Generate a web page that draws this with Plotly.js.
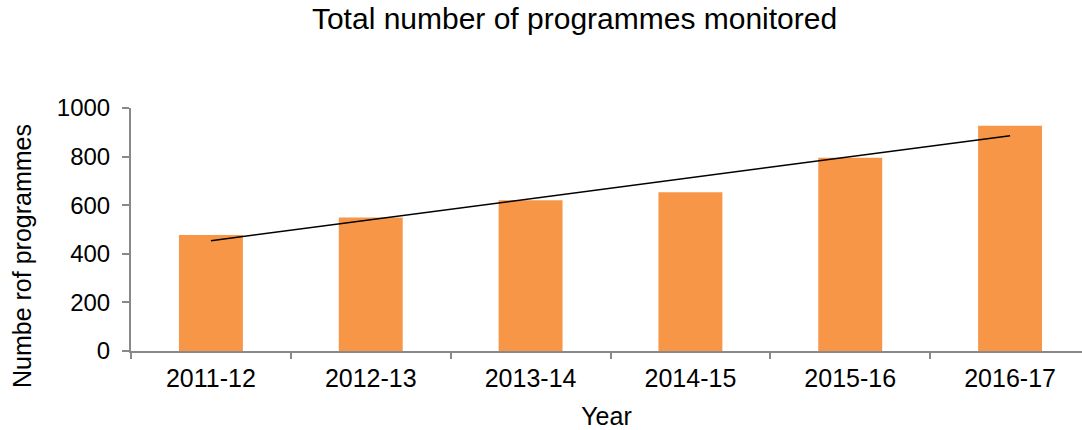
<!DOCTYPE html>
<html>
<head>
<meta charset="utf-8">
<script src="https://cdn.plot.ly/plotly-3.0.1.min.js"></script>
<style>html,body{margin:0;padding:0;background:#fff;overflow:hidden}</style>
</head>
<body>
<div id="chart" style="width:1082px;height:430px"></div>
<script>
const years = ['2011-12', '2012-13', '2013-14', '2014-15', '2015-16', '2016-17'];
const programmes = [477, 549, 620, 653, 795, 927];
const trendYears = ['2011-12', '2016-17'];
const trendValues = [454, 886];

const font = 'Liberation Sans, Arial, sans-serif';

const data = [
  {
    type: 'bar',
    x: years,
    y: programmes,
    width: 0.4,
    marker: {color: '#F79646'},
    hoverinfo: 'x+y',
    showlegend: false
  },
  {
    type: 'scatter',
    mode: 'lines',
    x: trendYears,
    y: trendValues,
    line: {color: '#000000', width: 1.5},
    hoverinfo: 'skip',
    showlegend: false
  }
];

const layout = {
  width: 1082,
  height: 430,
  margin: {l: 131, r: 0, t: 108, b: 79},
  paper_bgcolor: '#ffffff',
  plot_bgcolor: '#ffffff',
  font: {family: font, color: '#000000', size: 24},
  title: {
    text: 'Total number of programmes monitored',
    font: {family: font, size: 30, color: '#000000'},
    x: 0.531, xref: 'container', xanchor: 'center',
    y: 0.958, yref: 'container', yanchor: 'middle'
  },
  xaxis: {
    type: 'category',
    range: [-0.5, 5.45],
    showgrid: false,
    zeroline: false,
    showline: true,
    linecolor: '#898989',
    linewidth: 2,
    ticks: 'outside',
    tickson: 'boundaries',
    ticklen: 6,
    tickwidth: 1.5,
    tickcolor: '#898989',
    ticklabelstandoff: 4,
    tickfont: {family: font, size: 25, color: '#000000'},
    title: {text: 'Year', font: {family: font, size: 25, color: '#000000'}, standoff: 16}
  },
  yaxis: {
    range: [0, 1000],
    dtick: 200,
    showgrid: false,
    zeroline: false,
    showline: true,
    linecolor: '#898989',
    linewidth: 2,
    ticks: 'outside',
    ticklen: 7,
    tickwidth: 1.5,
    tickcolor: '#898989',
    ticklabelstandoff: 7,
    tickfont: {family: font, size: 24, color: '#000000'}
  },
  annotations: [
    {
      text: 'Numbe rof programmes',
      textangle: -90,
      xref: 'paper', yref: 'paper',
      x: -0.1146, y: 0.391,
      xanchor: 'center', yanchor: 'middle',
      showarrow: false,
      font: {family: font, size: 25, color: '#000000'}
    }
  ]
};

Plotly.newPlot('chart', data, layout, {displayModeBar: false, responsive: false});
</script>
</body>
</html>
